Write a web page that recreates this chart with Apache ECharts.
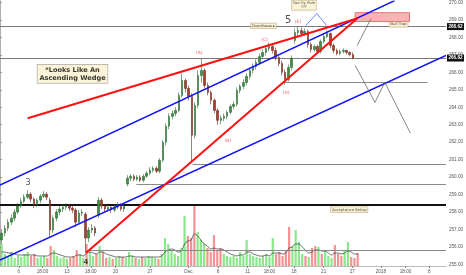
<!DOCTYPE html>
<html><head><meta charset="utf-8">
<script src="https://cdn.jsdelivr.net/npm/echarts@6/dist/echarts.min.js"></script>
<style>html,body{margin:0;padding:0;background:#fff}#c{width:466px;height:275px}</style>
</head><body><div id="c"></div>
<script>
// ---------- DATA ----------
// candles: [open, close, low, high], 3 bars per trading day starting Nov 2 2017
const candles = [
[256.40,256.80,256.17,256.97],[256.80,257.08,256.62,257.25],[257.08,257.42,256.91,257.60],[257.42,257.65,257.25,257.88],[257.65,258.00,257.48,258.17],
[258.00,258.34,257.88,258.51],[258.34,258.62,258.22,258.80],[258.62,258.85,258.51,259.02],[258.85,259.02,258.74,259.25],[259.02,258.74,258.57,259.14],
[258.74,258.40,258.22,258.85],[258.40,258.68,258.28,258.80],[258.68,258.91,258.51,259.02],[258.91,259.02,258.80,259.20],[259.02,258.85,258.68,259.14],
[258.68,256.97,256.51,258.80],[256.97,257.65,256.80,257.82],[257.65,258.00,257.48,258.17],[258.00,258.17,257.82,258.34],[258.17,258.28,258.00,258.45],
[258.28,258.34,258.11,258.51],[258.34,258.22,258.05,258.45],[258.22,258.11,257.94,258.40],[258.11,257.42,257.14,258.22],[257.42,257.94,257.31,258.11],
[257.94,258.00,257.77,258.17],[257.88,256.51,255.71,258.00],[256.51,256.97,256.28,257.14],[256.97,257.08,256.80,257.31],[257.08,256.80,256.62,257.20],
[257.82,258.68,257.65,258.85],[258.68,258.34,258.17,258.80],[258.34,258.17,258.00,258.45],[258.17,258.28,258.05,258.40],[258.28,258.11,257.94,258.40],
[258.11,258.28,258.00,258.45],[258.28,258.40,258.17,258.57],[258.40,258.17,258.05,258.51],[258.17,258.34,258.00,258.45],[259.60,259.94,259.48,260.11],
[259.94,260.05,259.77,260.17],[260.05,259.88,259.77,260.17],[259.88,260.00,259.77,260.11],[260.00,259.82,259.71,260.11],[259.82,260.05,259.71,260.17],
[260.05,260.22,259.94,260.34],[260.22,260.40,260.11,260.57],[260.40,260.51,260.28,260.62],[260.51,260.34,260.22,260.62],[260.34,260.97,260.22,261.08],
[260.97,262.00,260.85,262.11],[262.00,262.91,261.82,263.08],[262.91,263.48,262.74,263.65],[263.48,263.65,263.31,263.82],[263.65,263.82,263.48,264.00],
[263.82,264.68,263.71,264.85],[264.68,265.54,264.57,265.94],[265.54,265.08,264.85,265.65],[265.08,264.62,264.40,265.25],[264.62,262.40,260.80,264.80],
[262.40,264.11,262.22,264.28],[264.11,265.82,263.94,266.11],[265.82,266.11,265.42,266.80],[266.11,265.25,265.08,266.22],[265.25,264.85,264.68,265.42],
[264.85,264.40,264.17,264.97],[264.40,263.82,263.65,264.51],[263.82,263.25,262.97,263.94],[263.25,263.37,263.02,263.54],[263.37,263.48,263.20,263.65],
[263.48,263.71,263.31,263.82],[263.71,264.05,263.60,264.17],[264.05,264.17,263.88,264.34],[264.17,264.97,264.05,265.14],[264.97,265.20,264.80,265.31],
[265.20,265.42,265.02,265.60],[265.42,265.77,265.25,265.94],[265.77,266.11,265.60,266.28],[266.11,266.34,265.94,266.51],[266.34,266.57,266.17,266.74],
[266.57,266.91,266.45,267.08],[266.91,267.14,266.74,267.31],[267.14,267.37,266.97,267.54],[267.37,267.48,267.20,267.71],[267.48,267.25,267.08,267.65],
[267.25,266.85,266.68,267.42],[266.85,266.51,266.34,266.97],[266.51,266.00,265.82,266.68],[266.00,265.60,265.31,266.17],[265.60,266.28,265.48,266.45],
[266.28,266.80,266.11,266.97],[267.82,268.28,267.65,268.51],[268.28,268.40,268.11,268.62],[268.40,268.22,268.05,268.57],[268.22,268.34,268.11,268.51],
[268.34,267.60,267.42,268.45],[267.60,267.31,267.14,267.71],[267.31,267.48,267.20,267.60],[267.48,267.20,267.08,267.60],[267.20,267.77,267.08,267.88],
[267.77,268.05,267.65,268.22],[268.05,268.22,267.94,268.40],[268.22,267.54,267.37,268.28],[267.54,267.25,267.08,267.65],[267.25,267.08,266.97,267.37],
[267.08,267.20,266.97,267.31],[267.20,267.25,267.08,267.37],[267.25,267.14,267.02,267.31],[267.14,267.02,266.91,267.20],[267.02,266.82,266.74,267.14]
];
// volume (millions) per bar
const volumes = [
11,6,5,7,4,5,4.5,6,7,5,
6,4,4.5,5,4,10,8,5,4,4.5,
3.5,4,5,8,6,4,11,7,5,6,
10,7,4,4.5,3.5,4,5,4.5,4,7,
5,4,3.5,4.5,4,5,4.5,4,3.5,6,
14,11,8,6,5,9,25,15,14,30.5,
17,13,11,9,7,15.5,8,9,6,5,
4.5,5,4,7,5,13,6,5,4.5,4,
5,6,4.5,14,6,7,5,8,19.5,10,
18,12,6,5,4.5,9,10,9.5,6,8,
5,4,10.5,6,5,8,12,4.5,4,6.5
];
// volume moving average
const volumeMA = [
7,7,6.5,6.5,6,5.5,5.5,5.5,5.5,5.5,
5.5,5,5,5,5,6,6.5,6,5.5,5,
4.5,4.5,4.5,5.5,5.5,5,6.5,7,6.5,6,
7,7,6,5.5,5,4.5,4.5,4.5,4.5,5,
5,4.5,4.5,4.5,4.5,4.5,4.5,4.5,4.5,5,
7,8,8.5,8,7,7.5,11,12.5,13,16,
15,13,11,10,8.5,9,8.5,8.5,8,7,
6,5.5,5,5.5,5.5,7,7,6,5.5,5,
5,5.5,5,6.5,6.5,6.5,6,6.5,9,9.5,
11,11,9.5,8,6.5,7,8,8,7.5,7.5,
6.5,5.5,6.5,6.5,6,6.5,7.5,7,6,6
];
// x axis: trading-day index, ticks
const xTickDays = [1.94,4.39,6.94,9.39,11.94,15.51,19.49,22.55,25.61,27.86,30.41,33.47,36.43,39.39,41.94,44.39];
const xTickText = ['6','18:00','13','18:00','20','27','Dec','6','11','18:00','18','21','27','2018','18:00','8'];
const priceTicks = [255,256,257,258,259,260,261,262,263,264,265,266,267,268,269,270];
// horizontal levels
const levelPrice = [260.76,259.60,258.44,255.80,265.45];
const levelFrom  = [19.9,14.1,0,8.9,29.4];
const levelTo    = [46.12,46.12,46.12,46.12,44.2];
const tagPrices = [268.62,266.82];
// trend lines [day, price]
const wedgeUpper   = [[2.86,263.37],[36.94,269.08]];
const wedgeLower   = [[8.88,255.65],[36.94,269.08]];
const channelUpper = [[0,259.54],[40.82,270.11]];
const channelLower = [[0,255.25],[46.12,266.97]];
const projUp   = [[36.94,267.54],[38.37,269.08]];
const projDown = [[36.73,266.40],[38.78,264.28],[39.80,265.42],[42.45,262.51]];
const twoTryLeft  = [[32.76,269.37],[31.63,268.68]];
const twoTryRight = [[32.76,269.37],[33.78,268.68]];
const bullTrapZone = [[36.73,269.42],[42.35,268.91]];
// notes
const noteText  = ['*Looks Like An\nAscending Wedge','5','3','4','(A)','(B)','(C)','(D)','(E)','Two Try Rule\n???','Overthrow ▸','Bull Trap','Acceptance Below'];
const noteDay   = [7.5,29.8,2.9,8.88,20.61,23.57,27.35,29.59,30.82,31.43,27.24,41.22,36.12];
const notePrice = [265.91,268.97,259.65,255.1,267.14,262.05,267.88,264.85,268.91,269.85,268.66,268.74,258.14];

// ---------- CHART ----------
const DAY_MAX = 46.12;
const barDay = candles.map((c, i) => i / 3 + 1 / 6);
const UP = '#3f8f46', DOWN = '#a8402f';
const chart = echarts.init(document.getElementById('c'));
const grid = {left:0, right:14, top:0, bottom:9};
const tickMap = {};
xTickDays.forEach((d,i)=>{ tickMap[d.toFixed(2)] = xTickText[i]; });

const boxStyle = {backgroundColor:'#fbf1cf', borderColor:'#b9a777', borderWidth:0.6, color:'#222', fontFamily:'DejaVu Sans'};
const noteStyles = [
  Object.assign({}, boxStyle, {fontSize:6.6, fontWeight:'bold', lineHeight:8, padding:[1.5,2,1,2], color:'#000', borderColor:'#999'}),
  {fontSize:10, color:'#222', fontFamily:'DejaVu Sans'},
  {fontSize:8, color:'#222', fontFamily:'DejaVu Sans'},
  {fontSize:7, color:'#222', fontWeight:'bold', fontFamily:'DejaVu Sans'},
  {fontSize:4.5, color:'#e0413f', fontFamily:'DejaVu Sans'},
  {fontSize:4.5, color:'#e0413f', fontFamily:'DejaVu Sans'},
  {fontSize:4.5, color:'#e0413f', fontFamily:'DejaVu Sans'},
  {fontSize:4.5, color:'#e0413f', fontFamily:'DejaVu Sans'},
  {fontSize:4.5, color:'#e0413f', fontFamily:'DejaVu Sans'},
  Object.assign({}, boxStyle, {fontSize:3.6, lineHeight:4.2, padding:[0.5,1,0.5,1]}),
  Object.assign({}, boxStyle, {fontSize:3.8, padding:[0.5,1,0.5,1]}),
  Object.assign({}, boxStyle, {fontSize:3.8, padding:[0.5,1,0.5,1]}),
  Object.assign({}, boxStyle, {fontSize:3.8, padding:[0.5,1,0.5,1]})
];

const option = {
  animation:false,
  backgroundColor:'#fff',
  grid:[Object.assign({}, grid), Object.assign({}, grid)],
  xAxis:[
    {type:'value', gridIndex:0, min:0, max:DAY_MAX,
     axisLine:{show:true, lineStyle:{color:'#aaa', width:0.8}},
     axisTick:{show:true, customValues:xTickDays, length:2, lineStyle:{color:'#888'}},
     axisLabel:{customValues:xTickDays, fontSize:4.6, color:'#555', margin:3,
       formatter:(v)=> tickMap[Number(v).toFixed(2)] || ''},
     splitLine:{show:false}},
    {type:'value', gridIndex:1, min:0, max:DAY_MAX, show:false}
  ],
  yAxis:[
    {type:'value', gridIndex:0, position:'right', min:254.91, max:270.11,
     axisLine:{show:true, lineStyle:{color:'#999', width:0.8}},
     axisTick:{show:true, customValues:priceTicks, length:2, lineStyle:{color:'#999'}},
     axisLabel:{customValues:priceTicks, fontSize:4.6, color:'#555', margin:3,
       formatter:(v)=> Number(v).toFixed(2)},
     splitLine:{show:false}},
    {type:'value', gridIndex:1, min:0, max:133, show:false}
  ],
  series:[
    {type:'bar', name:'vol', xAxisIndex:1, yAxisIndex:1, barWidth:2.2, z:1,
     data: volumes.map((v,i)=>({value:[barDay[i], v],
        itemStyle:{color: candles[i][1] >= candles[i][0] ? 'rgba(110,225,110,0.8)' : 'rgba(240,120,120,0.8)'}}))},
    {type:'line', name:'volMA', xAxisIndex:1, yAxisIndex:1, showSymbol:false, smooth:0.4, z:2,
     lineStyle:{color:'#333', width:0.7}, data: volumeMA.map((v,i)=>[barDay[i], v])},
    {type:'lines', name:'levels', coordinateSystem:'cartesian2d', xAxisIndex:0, yAxisIndex:0, z:3,
     data: levelPrice.map((p,i)=>({coords:[[levelFrom[i],p],[levelTo[i],p]],
        lineStyle: i===2 ? {color:'#111', width:2, opacity:1} : {color:'#8a8a8a', width:1.1, opacity:1}}))},
    {type:'lines', name:'trend', coordinateSystem:'cartesian2d', xAxisIndex:0, yAxisIndex:0, z:6,
     data:[
       {coords:channelUpper, lineStyle:{color:'#1010ff', width:1.5, opacity:1}},
       {coords:channelLower, lineStyle:{color:'#1010ff', width:1.5, opacity:1}},
       {coords:wedgeUpper, lineStyle:{color:'#ff1010', width:2, opacity:1}},
       {coords:wedgeLower, lineStyle:{color:'#ff1010', width:2, opacity:1}}
     ]},
    {type:'lines', name:'proj', coordinateSystem:'cartesian2d', xAxisIndex:0, yAxisIndex:0, z:7,
     polyline:true, symbol:['none','arrow'], symbolSize:4,
     data:[
       {coords:projUp, lineStyle:{color:'#555', width:0.7, opacity:1}},
       {coords:projDown, lineStyle:{color:'#555', width:0.7, opacity:1}},
       {coords:twoTryLeft, lineStyle:{color:'#3355ff', width:0.7, opacity:1}},
       {coords:twoTryRight, lineStyle:{color:'#3355ff', width:0.7, opacity:1}}
     ]},
    {type:'candlestick', name:'price', xAxisIndex:0, yAxisIndex:0, z:5, barWidth:2,
     encode:{x:0, y:[1,2,3,4]},
     data: candles.map((c,i)=>[barDay[i], c[0], c[1], c[2], c[3]]),
     itemStyle:{color:UP, color0:DOWN, borderColor:'#2a6a30', borderColor0:'#6e261c', borderWidth:0.6},
     markArea:{silent:true, itemStyle:{color:'rgba(245,140,140,0.65)', borderColor:'#e05a5a', borderWidth:0.8},
       data:[[{coord:bullTrapZone[0]},{coord:bullTrapZone[1]}]]},
     markLine:{silent:true, symbol:['none','none'],
       lineStyle:{color:'#7a7a7a', width:1.1, type:'solid', opacity:1},
       label:{show:true, position:'end', distance:1, backgroundColor:'#111', color:'#fff',
              fontSize:4.6, fontWeight:'bold', padding:[1,1.5,1,1.5], formatter:(p)=>Number(p.value).toFixed(2)},
       data: tagPrices.map(p=>({yAxis:p}))}},
    {type:'scatter', name:'notes', xAxisIndex:0, yAxisIndex:0, symbolSize:0, z:9,
     data: noteText.map((t,i)=>({value:[noteDay[i], notePrice[i]], name:t,
       label:Object.assign({show:true, position:'inside', formatter:t, align:'center', verticalAlign:'middle'}, noteStyles[i])}))}
  ]
};
chart.setOption(option);
</script></body></html>
